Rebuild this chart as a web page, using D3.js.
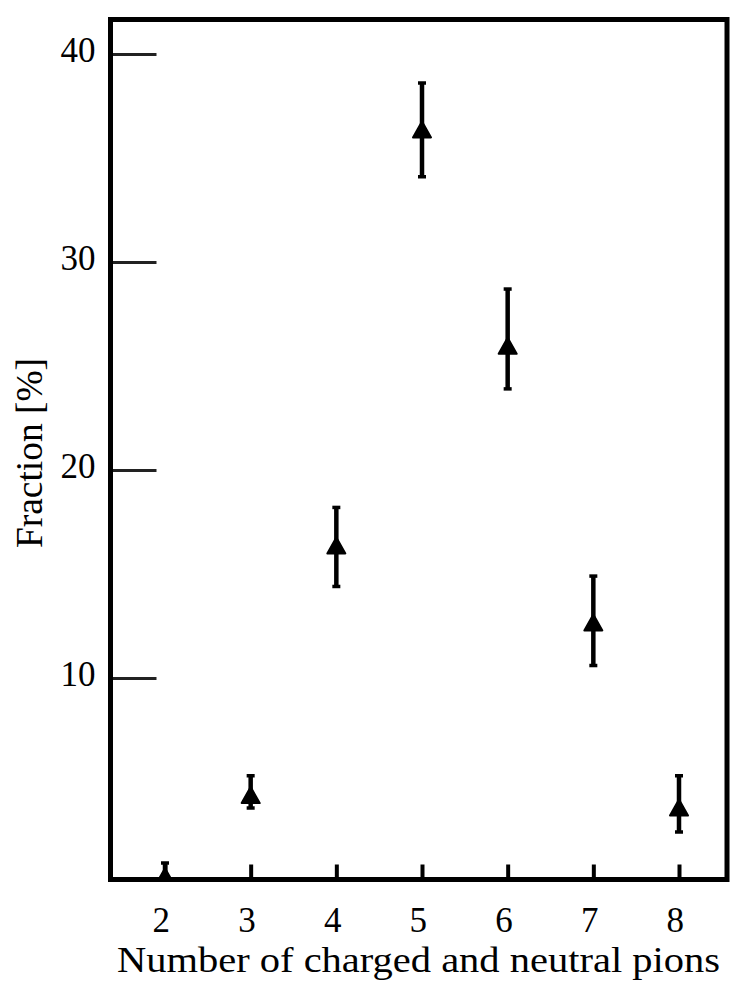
<!DOCTYPE html>
<html><head><meta charset="utf-8">
<script src="https://cdn.jsdelivr.net/npm/d3@7"></script>
<style>body{margin:0;background:#fff;} svg{display:block;} text{font-family:"Liberation Serif","DejaVu Serif",serif;}</style>
</head><body>
<svg id="chart" width="747" height="996"></svg>
<script>
const categories = [2, 3, 4, 5, 6, 7, 8];
const values   = [0.4, 4.3, 16.3, 36.3, 25.9, 12.6, 3.7];
const errLow   = [0.0, 3.75, 14.4, 34.1, 23.9, 10.6, 2.6];
const errHigh  = [1.1, 5.3, 18.2, 38.6, 28.7, 14.9, 5.3];
const yTicks = [10, 20, 30, 40];
const xTitle = "Number of charged and neutral pions";
const yTitle = "Fraction [%]";

const svg = d3.select("#chart");
const font = '"Liberation Serif", "DejaVu Serif", serif';
const frame = {left: 110.5, top: 19.5, right: 727, bottom: 879.5};

const x = d3.scaleLinear().domain([2, 8]).range([165, 679]);
const y = d3.scaleLinear().domain([0, 40]).range([886, 54]);

const data = categories.map((c, i) => ({c, v: values[i], lo: errLow[i], hi: errHigh[i]}));

svg.append("clipPath").attr("id", "plotclip").append("rect")
  .attr("x", frame.left).attr("y", frame.top)
  .attr("width", frame.right - frame.left).attr("height", frame.bottom - frame.top);

// Y axis
const yAxis = svg.append("g").attr("transform", `translate(${frame.left},0)`)
  .call(d3.axisLeft(y).tickValues(yTicks).tickSize(-46).tickPadding(15).tickFormat(d3.format("d")));
yAxis.attr("font-family", null).attr("font-size", null);
yAxis.select(".domain").remove();
yAxis.selectAll(".tick line").attr("stroke", "#222").attr("stroke-width", 3);
yAxis.selectAll(".tick text").style("font-family", font).style("font-size", "35px")
  .attr("fill", "#000").attr("dy", "0.2em");

// X axis
const xAxis = svg.append("g").attr("transform", `translate(0,${frame.bottom})`)
  .call(d3.axisBottom(x).tickValues(categories).tickSize(-15).tickPadding(28).tickFormat(d3.format("d")));
xAxis.attr("font-family", null).attr("font-size", null);
xAxis.select(".domain").remove();
xAxis.selectAll(".tick line").attr("stroke", "#000").attr("stroke-width", 4);
xAxis.selectAll(".tick text").style("font-family", font).style("font-size", "35px")
  .attr("fill", "#000").attr("dx", "-0.12em");

// Data points
const pts = svg.append("g").attr("clip-path", "url(#plotclip)");
const g = pts.selectAll("g.pt").data(data).join("g").attr("class", "pt");
g.append("line")
  .attr("x1", d => x(d.c)).attr("x2", d => x(d.c))
  .attr("y1", d => y(d.lo)).attr("y2", d => y(d.hi))
  .attr("stroke", "#000").attr("stroke-width", 4.5);
g.append("line")
  .attr("x1", d => x(d.c) - 4).attr("x2", d => x(d.c) + 4)
  .attr("y1", d => y(d.hi)).attr("y2", d => y(d.hi))
  .attr("stroke", "#000").attr("stroke-width", 3.5);
g.append("line")
  .attr("x1", d => x(d.c) - 4).attr("x2", d => x(d.c) + 4)
  .attr("y1", d => y(d.lo)).attr("y2", d => y(d.lo))
  .attr("stroke", "#000").attr("stroke-width", 3.5);
g.append("path")
  .attr("transform", d => `translate(${x(d.c)},${y(d.v)})`)
  .attr("d", "M0,-9.5 L9,6.5 L-9,6.5 Z")
  .attr("fill", "#000").attr("stroke", "#000").attr("stroke-width", 2).attr("stroke-linejoin", "round");

// Frame
svg.append("rect")
  .attr("x", frame.left).attr("y", frame.top)
  .attr("width", frame.right - frame.left).attr("height", frame.bottom - frame.top)
  .attr("fill", "none").attr("stroke", "#000").attr("stroke-width", 5);

// Titles
svg.append("text").attr("x", 418.5).attr("y", 972)
  .attr("text-anchor", "middle").style("font-family", font).style("font-size", "35px")
  .attr("textLength", 603).attr("lengthAdjust", "spacingAndGlyphs")
  .attr("fill", "#000").text(xTitle);
svg.append("text").attr("transform", "translate(42,453) rotate(-90)")
  .attr("text-anchor", "middle").style("font-family", font).style("font-size", "37px")
  .attr("textLength", 190).attr("lengthAdjust", "spacingAndGlyphs")
  .attr("fill", "#000").text(yTitle);
</script>
</body></html>
